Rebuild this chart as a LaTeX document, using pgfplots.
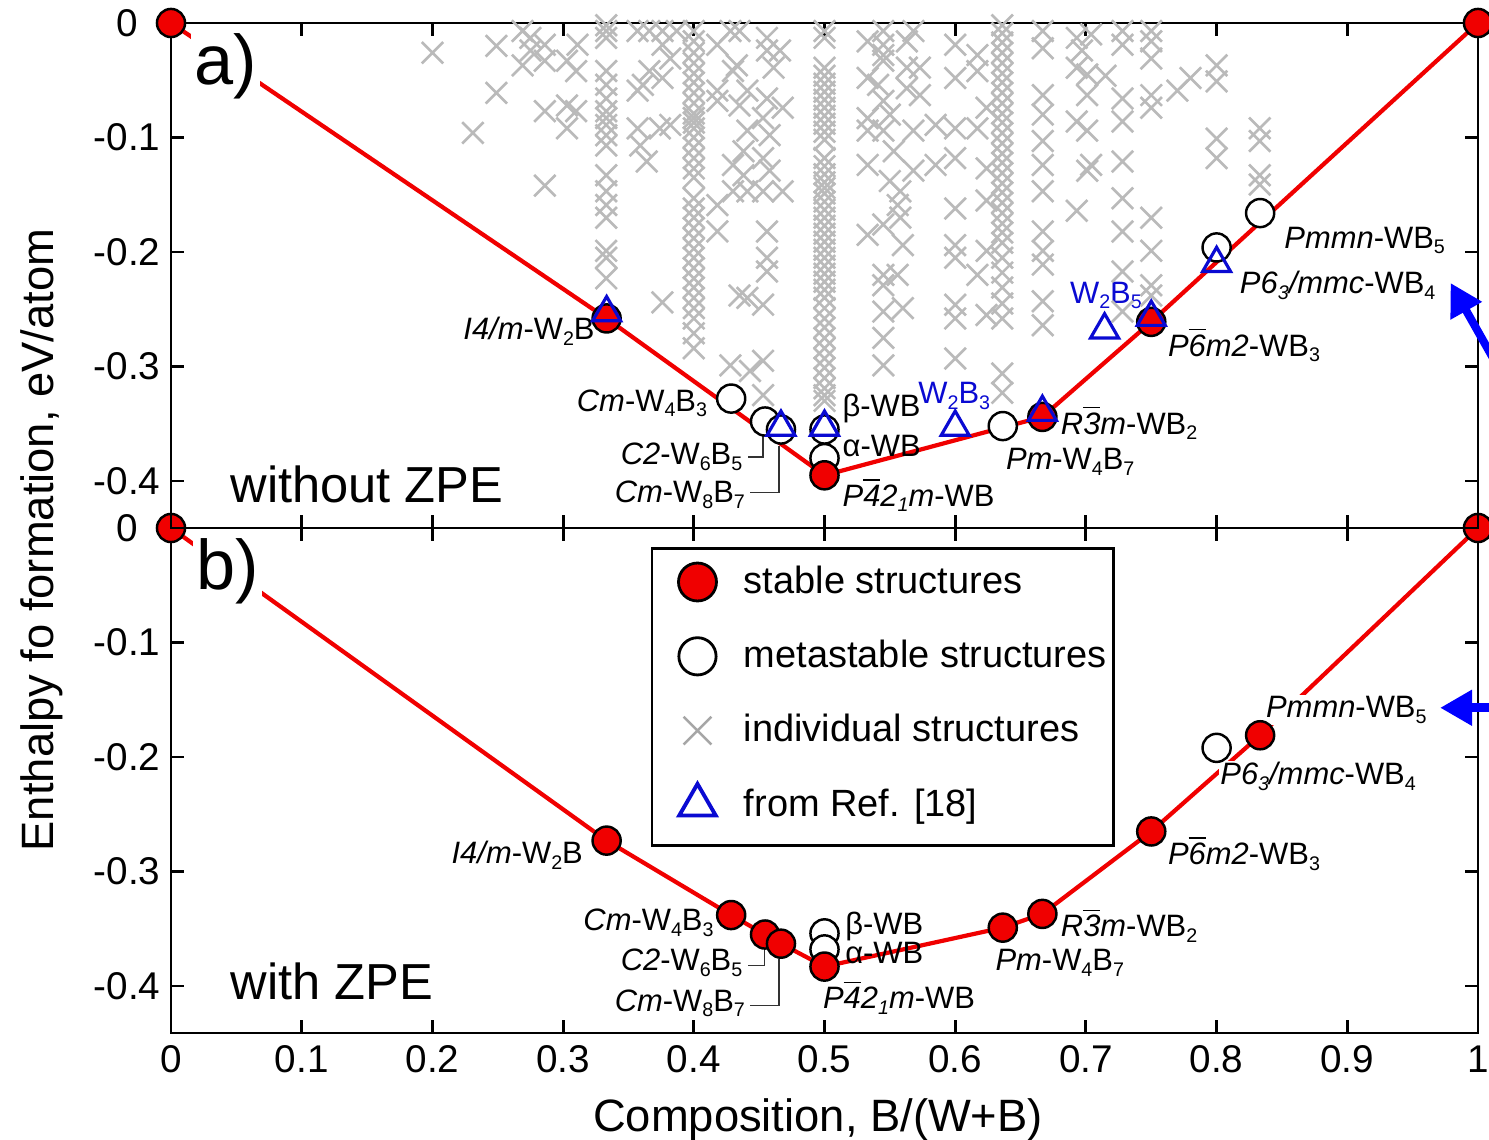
\documentclass[border=0pt]{standalone}
\usepackage{fontspec}
\setmainfont{Liberation Sans}
\usepackage{pgfplots}
\pgfplotsset{compat=1.18}
\usetikzlibrary{arrows.meta}
\usepackage{pgfplotstable}
\definecolor{hullred}{RGB}{240,0,0}
\definecolor{xgray}{RGB}{186,186,186}
\definecolor{refblue}{RGB}{10,10,210}
\definecolor{arrblue}{RGB}{0,0,255}
\newcommand{\sub}[1]{\raisebox{-0.35ex}{\fontsize{5.6}{6}\selectfont #1}}
\newcommand{\ob}[1]{\ensuremath{\overline{\mbox{#1}}}}

% individual structures (without ZPE)
\pgfplotstableread{
x y
0.200 -0.026
0.249 -0.020
0.249 -0.061
0.231 -0.096
0.269 -0.007
0.275 -0.024
0.269 -0.037
0.275 -0.013
0.286 -0.019
0.286 -0.033
0.286 -0.077
0.286 -0.142
0.303 -0.033
0.310 -0.042
0.303 -0.072
0.310 -0.077
0.303 -0.092
0.311 -0.019
0.333 -0.002
0.333 -0.007
0.333 -0.013
0.333 -0.042
0.333 -0.054
0.333 -0.066
0.333 -0.077
0.333 -0.083
0.333 -0.089
0.333 -0.098
0.333 -0.107
0.333 -0.133
0.333 -0.147
0.333 -0.159
0.333 -0.170
0.333 -0.199
0.333 -0.205
0.333 -0.223
0.357 -0.007
0.366 -0.007
0.376 -0.007
0.387 -0.007
0.376 -0.019
0.382 -0.031
0.366 -0.042
0.376 -0.048
0.361 -0.054
0.357 -0.059
0.382 -0.089
0.374 -0.092
0.357 -0.092
0.359 -0.107
0.364 -0.121
0.376 -0.244
0.400 -0.007
0.400 -0.016
0.400 -0.026
0.400 -0.035
0.400 -0.044
0.400 -0.052
0.400 -0.061
0.400 -0.070
0.400 -0.079
0.400 -0.083
0.400 -0.087
0.400 -0.092
0.400 -0.100
0.400 -0.109
0.400 -0.118
0.400 -0.127
0.400 -0.135
0.400 -0.153
0.400 -0.162
0.400 -0.170
0.400 -0.179
0.400 -0.188
0.400 -0.197
0.400 -0.205
0.400 -0.214
0.400 -0.223
0.400 -0.231
0.400 -0.240
0.400 -0.249
0.400 -0.258
0.400 -0.271
0.400 -0.284
0.418 -0.019
0.418 -0.059
0.418 -0.068
0.418 -0.159
0.418 -0.182
0.428 -0.007
0.435 -0.007
0.433 -0.037
0.430 -0.042
0.441 -0.059
0.435 -0.072
0.441 -0.094
0.438 -0.112
0.430 -0.124
0.438 -0.133
0.430 -0.147
0.441 -0.147
0.441 -0.240
0.435 -0.238
0.456 -0.013
0.456 -0.024
0.466 -0.024
0.461 -0.039
0.456 -0.066
0.468 -0.074
0.453 -0.083
0.458 -0.098
0.453 -0.118
0.458 -0.129
0.453 -0.147
0.468 -0.147
0.456 -0.182
0.456 -0.205
0.456 -0.217
0.453 -0.246
0.428 -0.299
0.443 -0.304
0.453 -0.295
0.453 -0.325
0.500 -0.007
0.500 -0.013
0.500 -0.039
0.500 -0.046
0.500 -0.053
0.500 -0.060
0.500 -0.067
0.500 -0.074
0.500 -0.081
0.500 -0.088
0.500 -0.095
0.500 -0.102
0.500 -0.118
0.500 -0.125
0.500 -0.132
0.500 -0.139
0.500 -0.144
0.500 -0.149
0.500 -0.156
0.500 -0.163
0.500 -0.170
0.500 -0.177
0.500 -0.184
0.500 -0.191
0.500 -0.198
0.500 -0.205
0.500 -0.212
0.500 -0.219
0.500 -0.226
0.500 -0.233
0.500 -0.240
0.500 -0.249
0.500 -0.258
0.500 -0.266
0.500 -0.275
0.500 -0.284
0.500 -0.293
0.500 -0.301
0.500 -0.310
0.500 -0.319
0.500 -0.325
0.500 -0.330
0.533 -0.016
0.533 -0.048
0.533 -0.083
0.533 -0.094
0.533 -0.124
0.533 -0.185
0.545 -0.007
0.545 -0.019
0.545 -0.028
0.545 -0.033
0.541 -0.054
0.545 -0.068
0.550 -0.080
0.545 -0.094
0.553 -0.112
0.550 -0.138
0.545 -0.176
0.545 -0.220
0.545 -0.229
0.545 -0.252
0.545 -0.275
0.545 -0.299
0.558 -0.147
0.556 -0.159
0.558 -0.170
0.560 -0.194
0.556 -0.220
0.560 -0.249
0.563 -0.016
0.563 -0.039
0.573 -0.039
0.563 -0.057
0.573 -0.063
0.568 -0.094
0.568 -0.129
0.568 -0.007
0.585 -0.089
0.585 -0.124
0.600 -0.019
0.600 -0.048
0.600 -0.118
0.600 -0.162
0.600 -0.194
0.600 -0.205
0.600 -0.246
0.600 -0.258
0.600 -0.293
0.600 -0.092
0.617 -0.028
0.617 -0.042
0.617 -0.092
0.617 -0.220
0.624 -0.074
0.624 -0.127
0.624 -0.155
0.624 -0.199
0.624 -0.255
0.636 -0.002
0.636 -0.009
0.636 -0.017
0.636 -0.026
0.636 -0.035
0.636 -0.044
0.636 -0.052
0.636 -0.061
0.636 -0.070
0.636 -0.079
0.636 -0.087
0.636 -0.096
0.636 -0.105
0.636 -0.114
0.636 -0.122
0.636 -0.131
0.636 -0.140
0.636 -0.148
0.636 -0.157
0.636 -0.166
0.636 -0.175
0.636 -0.183
0.636 -0.192
0.636 -0.205
0.636 -0.218
0.636 -0.231
0.636 -0.245
0.636 -0.258
0.636 -0.306
0.636 -0.323
0.667 -0.007
0.667 -0.022
0.667 -0.063
0.667 -0.080
0.667 -0.103
0.667 -0.124
0.667 -0.147
0.667 -0.182
0.667 -0.199
0.667 -0.211
0.667 -0.243
0.667 -0.264
0.693 -0.013
0.697 -0.024
0.693 -0.039
0.701 -0.045
0.701 -0.063
0.693 -0.086
0.701 -0.094
0.704 -0.124
0.701 -0.129
0.693 -0.164
0.704 -0.010
0.715 -0.046
0.728 -0.007
0.728 -0.019
0.728 -0.066
0.728 -0.086
0.728 -0.121
0.728 -0.153
0.728 -0.182
0.728 -0.217
0.728 -0.252
0.750 -0.007
0.750 -0.016
0.750 -0.031
0.750 -0.063
0.750 -0.074
0.750 -0.170
0.750 -0.199
0.750 -0.229
0.750 -0.238
0.770 -0.059
0.780 -0.048
0.800 -0.037
0.800 -0.051
0.800 -0.101
0.800 -0.118
0.833 -0.092
0.833 -0.103
0.833 -0.133
0.833 -0.141
}\indiv

\pgfplotsset{
  panel/.style={
    scale only axis, width=130.7mm, height=50.5mm,
    xmin=0, xmax=1, ymin=-0.441, ymax=0,
    xtick={0,0.1,0.2,0.3,0.4,0.5,0.6,0.7,0.8,0.9,1},
    ytick={0,-0.1,-0.2,-0.3,-0.4},
    tick align=inside, tick pos=both, major tick length=1.3mm,
    axis line style={line width=0.8pt},
    every tick/.style={black, line width=0.8pt},
    tick label style={font=\fontsize{11}{13}\selectfont},
    yticklabel style={anchor=center, xshift=-4.4mm},
    /pgf/number format/assume math mode=true,
    clip=false,
  },
  hull/.style={hullred, line width=1.2pt, no marks},
  stab/.style={only marks, mark=*, mark size=4pt, mark options={fill=hullred, draw=black, line width=0.7pt}},
  meta/.style={only marks, mark=*, mark size=4pt, mark options={fill=white, draw=black, line width=0.7pt}},
  tri/.style={only marks, mark=triangle, mark size=4.6pt, mark options={draw=refblue, line width=0.9pt, fill=none}},
  ind/.style={only marks, mark=x, mark size=4.3pt, mark options={draw=xgray, line width=0.75pt}},
  legmark/.style={legend image code/.code={\path (-4.4mm,-2.9mm) (3.8mm,0mm); \draw[##1] plot coordinates {(0mm,0mm)};}},
}
\tikzset{lab/.style={font=\fontsize{8.8}{10}\selectfont, inner sep=0.5pt}}

\begin{document}
\begin{tikzpicture}
% ---------------- bottom panel: with ZPE ----------------
\begin{axis}[panel, name=bot, at={(0,0)}, anchor=south west,
  legend style={at={(0.367,0.962)}, anchor=north west, draw=black, line width=0.8pt,
    font=\fontsize{10.8}{13}\selectfont, row sep=2.05mm, inner xsep=0mm, inner ysep=1.0mm},
  legend cell align=left]
\addlegendimage{legmark, only marks, mark=*, mark size=5.4pt, mark options={fill=hullred, draw=black, line width=0.8pt}}
\addlegendentry{stable structures}
\addlegendimage{legmark, only marks, mark=*, mark size=5.3pt, mark options={fill=white, draw=black, line width=0.8pt}}
\addlegendentry{metastable structures}
\addlegendimage{legmark, only marks, mark=x, mark size=5.6pt, mark options={draw=gray!70, line width=0.7pt}}
\addlegendentry{individual structures}
\addlegendimage{legmark, only marks, mark=triangle, mark size=6pt, mark options={draw=refblue, line width=1.1pt}}
\addlegendentry{from Ref. [18]}

\addplot[hull, forget plot] coordinates {(0,0) (0.3333,-0.273) (0.4286,-0.338) (0.4545,-0.355) (0.4667,-0.363) (0.5,-0.383) (0.6364,-0.349) (0.6667,-0.337) (0.75,-0.265) (0.8333,-0.181) (1,0)};
\addplot[meta, forget plot] coordinates {(0.5,-0.354) (0.5,-0.368) (0.8,-0.192)};
\addplot[stab, forget plot] coordinates {(0,0) (0.3333,-0.273) (0.4286,-0.338) (0.4545,-0.355) (0.4667,-0.363) (0.5,-0.383) (0.6364,-0.349) (0.6667,-0.337) (0.75,-0.265) (0.8333,-0.181) (1,0)};

\draw[black!80, line width=0.5pt] (axis cs:0.4415,-0.382) -- (axis cs:0.454,-0.382) -- (axis cs:0.454,-0.367);
\draw[black!80, line width=0.5pt] (axis cs:0.443,-0.417) -- (axis cs:0.465,-0.417) -- (axis cs:0.465,-0.376);

\node[anchor=west, fill=white, inner sep=1pt, font=\fontsize{20}{24}\selectfont] at (axis cs:0.016,-0.038) {b)};
\node[anchor=west, inner sep=0pt, font=\fontsize{14.4}{17}\selectfont] at (axis cs:0.045,-0.396) {with ZPE};
\node[lab, anchor=east] at (axis cs:0.317,-0.286) {\textit{I4/m}-W\sub{2}B};
\node[lab, anchor=east] at (axis cs:0.417,-0.345) {\textit{Cm}-W\sub{4}B\sub{3}};
\node[lab, anchor=east] at (axis cs:0.439,-0.380) {\textit{C2}-W\sub{6}B\sub{5}};
\node[lab, anchor=east] at (axis cs:0.441,-0.415) {\textit{Cm}-W\sub{8}B\sub{7}};
\node[lab, anchor=west] at (axis cs:0.514,-0.348) {β-WB};
\node[lab, anchor=west] at (axis cs:0.514,-0.371) {α-WB};
\node[lab, anchor=west] at (axis cs:0.497,-0.410) {\textit{P\ob{4}2\sub{1}m}-WB};
\node[lab, anchor=west] at (axis cs:0.629,-0.380) {\textit{Pm}-W\sub{4}B\sub{7}};
\node[lab, anchor=west] at (axis cs:0.679,-0.347) {\textit{R\ob{3}m}-WB\sub{2}};
\node[lab, anchor=west] at (axis cs:0.761,-0.284) {\textit{P\ob{6}m2}-WB\sub{3}};
\node[lab, anchor=west, fill=white] at (axis cs:0.801,-0.217) {\textit{P6\sub{3}/mmc}-WB\sub{4}};
\node[lab, anchor=west, fill=white] at (axis cs:0.836,-0.159) {\textit{Pmmn}-WB\sub{5}};

\draw[arrblue, line width=2.6pt, -{Triangle[length=3.2mm, width=3.4mm]}] (axis cs:1.045,-0.157) -- (axis cs:0.971,-0.157);

\node[rotate=90, font=\fontsize{12.9}{15}\selectfont] at (axis cs:-0.0987,-0.0105) {Enthalpy fo formation, eV/atom};
\node[font=\fontsize{12.9}{15}\selectfont] at (axis cs:0.495,-0.517) {Composition, B/(W+B)};
\end{axis}

% ---------------- top panel: without ZPE ----------------
\begin{axis}[panel, name=top, at={(bot.north west)}, anchor=south west, xticklabels={}]
\addplot[ind, forget plot] table[x=x, y=y] {\indiv};
\addplot[hull] coordinates {(0,0) (0.3333,-0.258) (0.5,-0.395) (0.6667,-0.344) (0.75,-0.261) (1,0)};
\addplot[meta] coordinates {(0.4286,-0.328) (0.4545,-0.348) (0.4667,-0.355) (0.5,-0.355) (0.5,-0.380) (0.6364,-0.352) (0.8,-0.196) (0.8333,-0.166)};
\addplot[stab] coordinates {(0,0) (0.3333,-0.258) (0.5,-0.395) (0.6667,-0.344) (0.75,-0.261) (1,0)};
\addplot[tri] coordinates {(0.3333,-0.253) (0.4667,-0.353) (0.5,-0.353) (0.6,-0.353) (0.6667,-0.340) (0.7143,-0.268) (0.75,-0.257) (0.8,-0.210)};

\draw[black!80, line width=0.5pt] (axis cs:0.4415,-0.379) -- (axis cs:0.453,-0.379) -- (axis cs:0.453,-0.361);
\draw[black!80, line width=0.5pt] (axis cs:0.443,-0.410) -- (axis cs:0.465,-0.410) -- (axis cs:0.465,-0.369);

\node[anchor=west, fill=white, inner sep=1pt, font=\fontsize{20}{24}\selectfont] at (axis cs:0.0145,-0.038) {a)};
\node[anchor=west, inner sep=0pt, font=\fontsize{14.4}{17}\selectfont] at (axis cs:0.045,-0.403) {without ZPE};
\node[lab, anchor=east] at (axis cs:0.326,-0.269) {\textit{I4/m}-W\sub{2}B};
\node[lab, anchor=east] at (axis cs:0.412,-0.332) {\textit{Cm}-W\sub{4}B\sub{3}};
\node[lab, anchor=east] at (axis cs:0.439,-0.379) {\textit{C2}-W\sub{6}B\sub{5}};
\node[lab, anchor=east] at (axis cs:0.441,-0.412) {\textit{Cm}-W\sub{8}B\sub{7}};
\node[lab, anchor=west] at (axis cs:0.512,-0.337) {β-WB};
\node[lab, anchor=west] at (axis cs:0.512,-0.369) {α-WB};
\node[lab, anchor=west] at (axis cs:0.512,-0.412) {\textit{P\ob{4}2\sub{1}m}-WB};
\node[lab, anchor=west, refblue] at (axis cs:0.570,-0.326) {W\sub{2}B\sub{3}};
\node[lab, anchor=west] at (axis cs:0.637,-0.383) {\textit{Pm}-W\sub{4}B\sub{7}};
\node[lab, anchor=west] at (axis cs:0.679,-0.349) {\textit{R\ob{3}m}-WB\sub{2}};
\node[lab, anchor=west, refblue] at (axis cs:0.686,-0.238) {W\sub{2}B\sub{5}};
\node[lab, anchor=west] at (axis cs:0.761,-0.281) {\textit{P\ob{6}m2}-WB\sub{3}};
\node[lab, anchor=west] at (axis cs:0.816,-0.229) {\textit{P6\sub{3}/mmc}-WB\sub{4}};
\node[lab, anchor=west] at (axis cs:0.850,-0.190) {\textit{Pmmn}-WB\sub{5}};

\draw[arrblue, line width=2.3pt, -{Triangle[length=3.2mm, width=3.4mm]}] (axis cs:1.03,-0.33) -- (axis cs:0.979,-0.227);
\end{axis}

\pgfresetboundingbox
\path[use as bounding box] (bot.south west) ++(-17.1mm,-10.7mm) rectangle ++(148.9mm,114mm);
\end{tikzpicture}
\end{document}
